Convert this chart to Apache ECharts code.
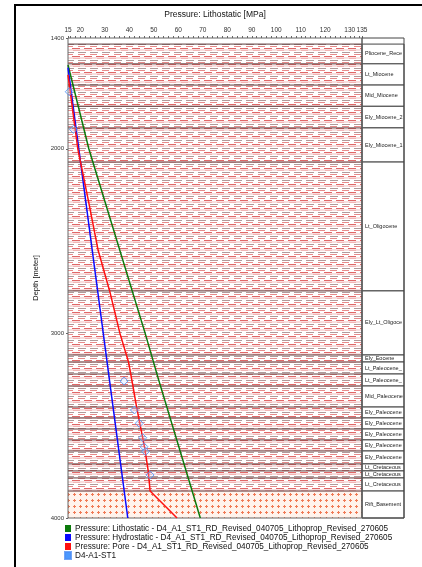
<!DOCTYPE html>
<html>
<head>
<meta charset="utf-8">
<script src="https://cdn.jsdelivr.net/npm/echarts@6/dist/echarts.min.js"></script>
<style>
  html, body { margin: 0; padding: 0; background: #fff; }
  #frame { position: absolute; left: 14px; top: 4px; width: 410px; height: 565px;
           border-left: 2px solid #000; border-top: 2px solid #000; }
  #chart { position: absolute; left: 0; top: 0; width: 422px; height: 567px; }
</style>
</head>
<body>
<div id="frame"></div>
<div id="chart"></div>
<script>
// Formation tops [m] and names, base of the section
const formationNames = [
  'Pliocene_Recen', 'Lt_Miocene', 'Mid_Miocene', 'Ely_Miocene_2', 'Ely_Miocene_1',
  'Lt_Oligocene', 'Ely_Lt_Oligocen', 'Ely_Eocene', 'Lt_Paleocene_2', 'Lt_Paleocene_1',
  'Mid_Paleocene', 'Ely_Paleocene_', 'Ely_Paleocene_', 'Ely_Paleocene_', 'Ely_Paleocene_',
  'Ely_Paleocene_', 'Lt_Cretaceous_', 'Lt_Cretaceous_', 'Lt_Cretaceous_', 'Rift_Basement'
];
const formationTops = [
  1433, 1540, 1655, 1770, 1887, 2072, 2770, 3117, 3155, 3220,
  3285, 3399, 3458, 3518, 3577, 3637, 3707, 3745, 3783, 3854
];
const sectionBase = 4000;
const lithology = [
  'shale', 'shale', 'shale', 'shale', 'shale', 'shale', 'shale', 'shale', 'shale', 'shale',
  'shale', 'shale', 'shale', 'shale', 'shale', 'shale', 'shale', 'shale', 'shale', 'basement'
];

// Pressure curves: depth [m] and pressure [MPa]
const lithoDepth = [1546, 2000, 3000, 3252, 4000];
const lithoPressure = [15, 23.5, 46.5, 52, 69];
const hydroDepth = [1560, 4000];
const hydroPressure = [15, 39.4];
const poreDepth = [1600, 2000, 2280, 2550, 2770, 3000, 3155, 3285, 3399, 3500, 3620, 3750, 3854, 4000];
const porePressure = [15, 19, 23.3, 27.3, 32, 36.2, 39.7, 41.5, 43, 44.5, 46.3, 47.8, 48.5, 59.5];

// Well measurements D4-A1-ST1
const wellDepth = [1691, 1895, 3258, 3415, 3487, 3565, 3614, 3640, 3767];
const wellPressure = [15.5, 17.2, 37.9, 42.1, 44.1, 45.5, 46, 46.6, 48.5];

// Axis ticks
const pressureLabels = [15, 20, 30, 40, 50, 60, 70, 80, 90, 100, 110, 120, 130, 135];
const depthLabels = [1400, 2000, 3000, 4000];
const pressureMin = 15, pressureMax = 135;
const depthMin = 1400, depthMax = 4000;

const seriesNames = [
  'Pressure: Lithostatic - D4_A1_ST1_RD_Revised_040705_Lithoprop_Revised_270605',
  'Pressure: Hydrostatic - D4_A1_ST1_RD_Revised_040705_Lithoprop_Revised_270605',
  'Pressure: Pore - D4_A1_ST1_RD_Revised_040705_Lithoprop_Revised_270605',
  'D4-A1-ST1'
];

const FONT = '"Liberation Sans", Arial, sans-serif';

// Lithology fill patterns
function shalePattern() {
  const c = document.createElement('canvas');
  c.width = 12; c.height = 8;
  const g = c.getContext('2d');
  g.fillStyle = '#ffffff'; g.fillRect(0, 0, 12, 8);
  g.fillStyle = '#f8dede'; g.fillRect(0, 1, 12, 2);
  g.fillStyle = '#e06868'; g.fillRect(0, 0, 8, 1);
  g.fillStyle = '#f2b4b4'; g.fillRect(1, 2, 7, 1);
  g.fillStyle = '#b09a9a'; g.fillRect(6, 4, 6, 1); g.fillRect(0, 4, 2, 1);
  g.fillStyle = '#e88a8a'; g.fillRect(6, 6, 6, 1); g.fillRect(0, 6, 1, 1);
  return c;
}
function basementPattern() {
  const c = document.createElement('canvas');
  c.width = 6; c.height = 6;
  const g = c.getContext('2d');
  g.fillStyle = '#fff3ec'; g.fillRect(0, 0, 6, 6);
  g.fillStyle = '#f07a55';
  g.fillRect(1, 2, 3, 1); g.fillRect(2, 1, 1, 3);
  return c;
}
const fills = {
  shale: { image: shalePattern(), repeat: 'repeat' },
  basement: { image: basementPattern(), repeat: 'repeat' }
};

const bands = formationTops.map((t, i) => [
  t, i < formationTops.length - 1 ? formationTops[i + 1] : sectionBase, i
]);

const tickValues = [15];
for (let v = 16; v <= 134; v += 2) tickValues.push(v);
tickValues.push(135);

const chart = echarts.init(document.getElementById('chart'), null, { renderer: 'canvas' });

chart.setOption({
  animation: false,
  textStyle: { fontFamily: FONT },
  grid: [
    { left: 68, top: 38, width: 294, height: 480, show: true, borderColor: '#666', borderWidth: 1, z: 5 },
    { left: 362, top: 38, width: 42, height: 480 }
  ],
  xAxis: [
    {
      type: 'value', gridIndex: 0, position: 'top', min: pressureMin, max: pressureMax,
      name: 'Pressure: Lithostatic [MPa]', nameLocation: 'middle', nameGap: 19,
      nameTextStyle: { fontSize: 8.5, color: '#111', fontFamily: FONT },
      axisLine: { show: false },
      axisTick: { show: true, customValues: tickValues, length: 2, lineStyle: { color: '#666', width: 1 } },
      axisLabel: { customValues: pressureLabels, fontSize: 6.5, color: '#333', margin: 4, fontFamily: FONT },
      splitLine: { show: false }
    },
    { type: 'value', gridIndex: 1, min: 0, max: 1, show: false }
  ],
  yAxis: [
    {
      type: 'value', gridIndex: 0, inverse: true, min: depthMin, max: depthMax,
      name: 'Depth [meter]', nameLocation: 'middle', nameGap: 19,
      nameTextStyle: { fontSize: 7.5, color: '#111', fontFamily: FONT },
      axisLine: { show: false },
      axisTick: { show: true, customValues: depthLabels, length: 2, lineStyle: { color: '#666' } },
      axisLabel: { customValues: depthLabels, fontSize: 6, color: '#333', margin: 4, fontFamily: FONT,
                   formatter: function (v) { return String(v); } },
      splitLine: { show: false }
    },
    { type: 'value', gridIndex: 1, inverse: true, min: depthMin, max: depthMax, show: false }
  ],
  legend: {
    orient: 'vertical', left: 64, top: 524, itemWidth: 6, itemHeight: 7, itemGap: 0,
    padding: 0, icon: 'rect',
    textStyle: { fontSize: 8.2, lineHeight: 9, color: '#111', fontFamily: FONT, padding: [0, 0, 0, -1] },
    data: [
      { name: seriesNames[0], itemStyle: { color: '#0b7a0b' } },
      { name: seriesNames[1], itemStyle: { color: '#0a0aff' } },
      { name: seriesNames[2], itemStyle: { color: '#ff1010' } },
      { name: seriesNames[3], itemStyle: { color: '#1e7fff' } }
    ]
  },
  series: [
    {
      // lithology bands in the pressure panel
      type: 'custom', xAxisIndex: 0, yAxisIndex: 0, silent: true, z: 1,
      data: bands,
      renderItem: function (params, api) {
        const i = api.value(2);
        const p1 = api.coord([pressureMin, api.value(0)]);
        const p2 = api.coord([pressureMax, api.value(1)]);
        return {
          type: 'group',
          children: [
            { type: 'rect', shape: { x: p1[0], y: p1[1], width: p2[0] - p1[0], height: p2[1] - p1[1] },
              style: { fill: fills[lithology[i]] } },
            { type: 'line', shape: { x1: p1[0], y1: p1[1], x2: p2[0], y2: p1[1] },
              style: { stroke: '#5e3a3a', lineWidth: 1 } }
          ]
        };
      }
    },
    {
      // formation column
      type: 'custom', xAxisIndex: 1, yAxisIndex: 1, silent: true, z: 1,
      data: bands,
      renderItem: function (params, api) {
        const i = api.value(2);
        const p1 = api.coord([0, api.value(0)]);
        const p2 = api.coord([1, api.value(1)]);
        return {
          type: 'group',
          children: [
            { type: 'rect', shape: { x: p1[0], y: p1[1], width: p2[0] - p1[0], height: p2[1] - p1[1] },
              style: { fill: '#fff', stroke: '#444', lineWidth: 1 } },
            { type: 'text', style: {
                text: formationNames[i], x: p1[0] + 3, y: (p1[1] + p2[1]) / 2,
                fontSize: 5.5, fill: '#222', fontFamily: FONT, verticalAlign: 'middle',
                width: p2[0] - p1[0] - 3, overflow: 'truncate', ellipsis: '' } }
          ]
        };
      }
    },
    {
      type: 'custom', xAxisIndex: 1, yAxisIndex: 1, silent: true, z: 2,
      data: [[depthMin, sectionBase]],
      renderItem: function (params, api) {
        const p1 = api.coord([0, api.value(0)]);
        const p2 = api.coord([1, api.value(1)]);
        return { type: 'rect', shape: { x: p1[0], y: p1[1], width: p2[0] - p1[0], height: p2[1] - p1[1] },
                 style: { fill: 'none', stroke: '#444', lineWidth: 1 } };
      }
    },
    {
      name: seriesNames[0], type: 'line', xAxisIndex: 0, yAxisIndex: 0, z: 10,
      data: lithoDepth.map((d, i) => [lithoPressure[i], d]),
      symbol: 'none', lineStyle: { color: '#0b7a0b', width: 1.5 }, itemStyle: { color: '#0b7a0b' }
    },
    {
      name: seriesNames[1], type: 'line', xAxisIndex: 0, yAxisIndex: 0, z: 10,
      data: hydroDepth.map((d, i) => [hydroPressure[i], d]),
      symbol: 'none', lineStyle: { color: '#0a0aff', width: 1.5 }, itemStyle: { color: '#0a0aff' }
    },
    {
      name: seriesNames[2], type: 'line', xAxisIndex: 0, yAxisIndex: 0, z: 11,
      data: poreDepth.map((d, i) => [porePressure[i], d]),
      symbol: 'none', lineStyle: { color: '#ff1010', width: 1.5 }, itemStyle: { color: '#ff1010' }
    },
    {
      name: seriesNames[3], type: 'scatter', xAxisIndex: 0, yAxisIndex: 0, z: 12,
      data: wellDepth.map((d, i) => [wellPressure[i], d]),
      symbol: 'diamond', symbolSize: 8,
      itemStyle: { color: 'rgba(200,220,255,0.35)', borderColor: '#4d8ef5', borderWidth: 1 }
    }
  ]
});
</script>
</body>
</html>
